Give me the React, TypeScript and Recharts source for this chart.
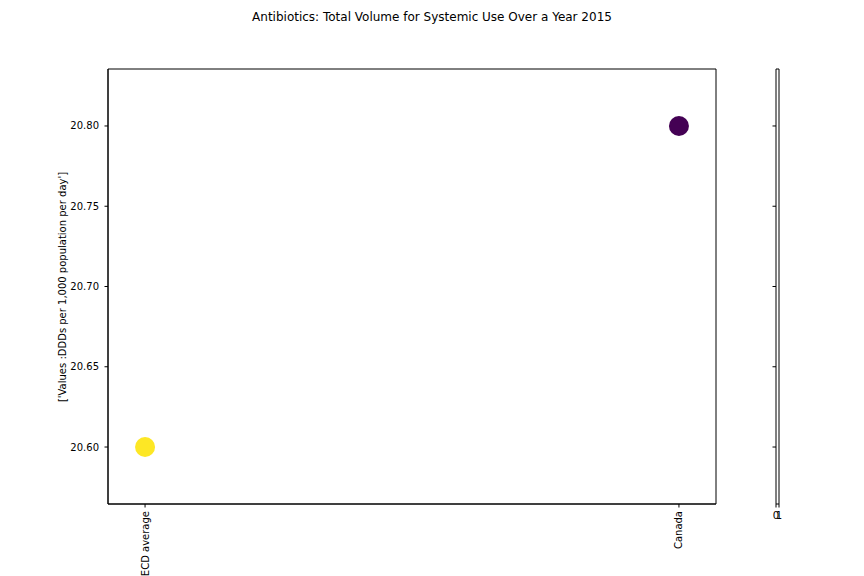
import React from 'react';
import { ScatterChart, Scatter, XAxis, YAxis, ReferenceArea, Cell, Label } from 'recharts';

const categories = ['OECD average', 'Canada'];
const values = [20.6, 20.8];
const pointColors = ['#fde725', '#440154'];
const yTicks = [20.6, 20.65, 20.7, 20.75, 20.8];
const title = 'Antibiotics: Total Volume for Systemic Use Over a Year 2015';
const yLabel = "['Values :DDDs per 1,000 population per day']";
const colorbarTicks = [0, 1];

const data = categories.map((c, i) => ({ x: i, y: values[i], name: c }));

const Y_DOMAIN: [number, number] = [20.5645, 20.8355];
const X_DOMAIN: [number, number] = [-0.0694, 1.0694];
const FONT = 'DejaVu Sans, sans-serif';

const XTick = (props: any) => {
  const { x, y, payload } = props;
  return (
    <g transform={`translate(${x},${y})`}>
      <text
        transform="rotate(-90)"
        x={-1.5}
        y={0}
        textAnchor="end"
        dominantBaseline="central"
        fontSize={10}
        fontFamily={FONT}
        fill="#000"
      >
        {categories[payload.value]}
      </text>
    </g>
  );
};

const YTick = (props: any) => {
  const { x, y, payload } = props;
  return (
    <text x={x - 3.5} y={y} textAnchor="end" dominantBaseline="central" fontSize={10} fontFamily={FONT} fill="#000">
      {payload.value.toFixed(2)}
    </text>
  );
};

const CbXTick = (props: any) => {
  const { x, y, payload } = props;
  return (
    <text x={x} y={y + 9} textAnchor="middle" fontSize={10} fontFamily={FONT} fill="#000">
      {String(payload.value)}
    </text>
  );
};

const Dot = (props: any) => {
  const { cx, cy, fill } = props;
  return <circle cx={cx} cy={cy} r={10} fill={fill} />;
};

export default function App() {
  return (
    <div style={{ position: 'absolute', left: 0, top: 0, width: 864, height: 576, background: '#fff' }}>
      <div
        style={{
          position: 'absolute',
          left: 0,
          top: 10,
          width: 864,
          textAlign: 'center',
          fontFamily: FONT,
          fontSize: 12,
          color: '#000',
        }}
      >
        {title}
      </div>
      <div style={{ position: 'absolute', left: 0, top: 0 }}>
        <ScatterChart width={864} height={576} margin={{ top: 69, right: 148, bottom: 0, left: 0 }}>
          <XAxis
            type="number"
            dataKey="x"
            domain={X_DOMAIN}
            ticks={[0, 1]}
            allowDataOverflow
            height={72}
            tick={<XTick />}
            tickSize={3.5}
            tickLine={{ stroke: '#000' }}
            axisLine={{ stroke: '#000' }}
            interval={0}
          />
          <YAxis
            type="number"
            dataKey="y"
            domain={Y_DOMAIN}
            ticks={yTicks}
            allowDataOverflow
            width={108}
            tick={<YTick />}
            tickSize={3.5}
            tickLine={{ stroke: '#000' }}
            axisLine={{ stroke: '#000' }}
            interval={0}
          >
            <Label
              content={() => (
                <text
                  x={62}
                  y={287}
                  transform="rotate(-90 62 287)"
                  textAnchor="middle"
                  dominantBaseline="central"
                  fontSize={10}
                  fontFamily={FONT}
                  fill="#000"
                >
                  {yLabel}
                </text>
              )}
            />
          </YAxis>
          <ReferenceArea
            x1={X_DOMAIN[0]}
            x2={X_DOMAIN[1]}
            y1={Y_DOMAIN[0]}
            y2={Y_DOMAIN[1]}
            fill="none"
            stroke="#000"
            strokeWidth={1}
            ifOverflow="visible"
          />
          <Scatter data={data} isAnimationActive={false} shape={<Dot />}>
            {data.map((d, i) => (
              <Cell key={d.name} fill={pointColors[i]} />
            ))}
          </Scatter>
        </ScatterChart>
      </div>
      <div style={{ position: 'absolute', left: 0, top: 0 }}>
        <ScatterChart width={864} height={576} margin={{ top: 69, right: 85, bottom: 0, left: 0 }}>
          <XAxis
            type="number"
            dataKey="x"
            domain={[0, 1]}
            ticks={colorbarTicks}
            allowDataOverflow
            height={72}
            tick={<CbXTick />}
            tickSize={3.5}
            tickLine={{ stroke: '#000' }}
            axisLine={false}
            interval={0}
          />
          <YAxis
            type="number"
            dataKey="y"
            domain={Y_DOMAIN}
            ticks={yTicks}
            allowDataOverflow
            width={776}
            tick={() => <g />}
            tickSize={3.5}
            tickLine={{ stroke: '#000' }}
            axisLine={false}
            interval={0}
          />
          <ReferenceArea
            x1={0}
            x2={1}
            y1={Y_DOMAIN[0]}
            y2={Y_DOMAIN[1]}
            fill="#fff"
            stroke="#000"
            strokeWidth={1}
            ifOverflow="visible"
          />
          <Scatter data={[]} isAnimationActive={false} />
        </ScatterChart>
      </div>
    </div>
  );
}
